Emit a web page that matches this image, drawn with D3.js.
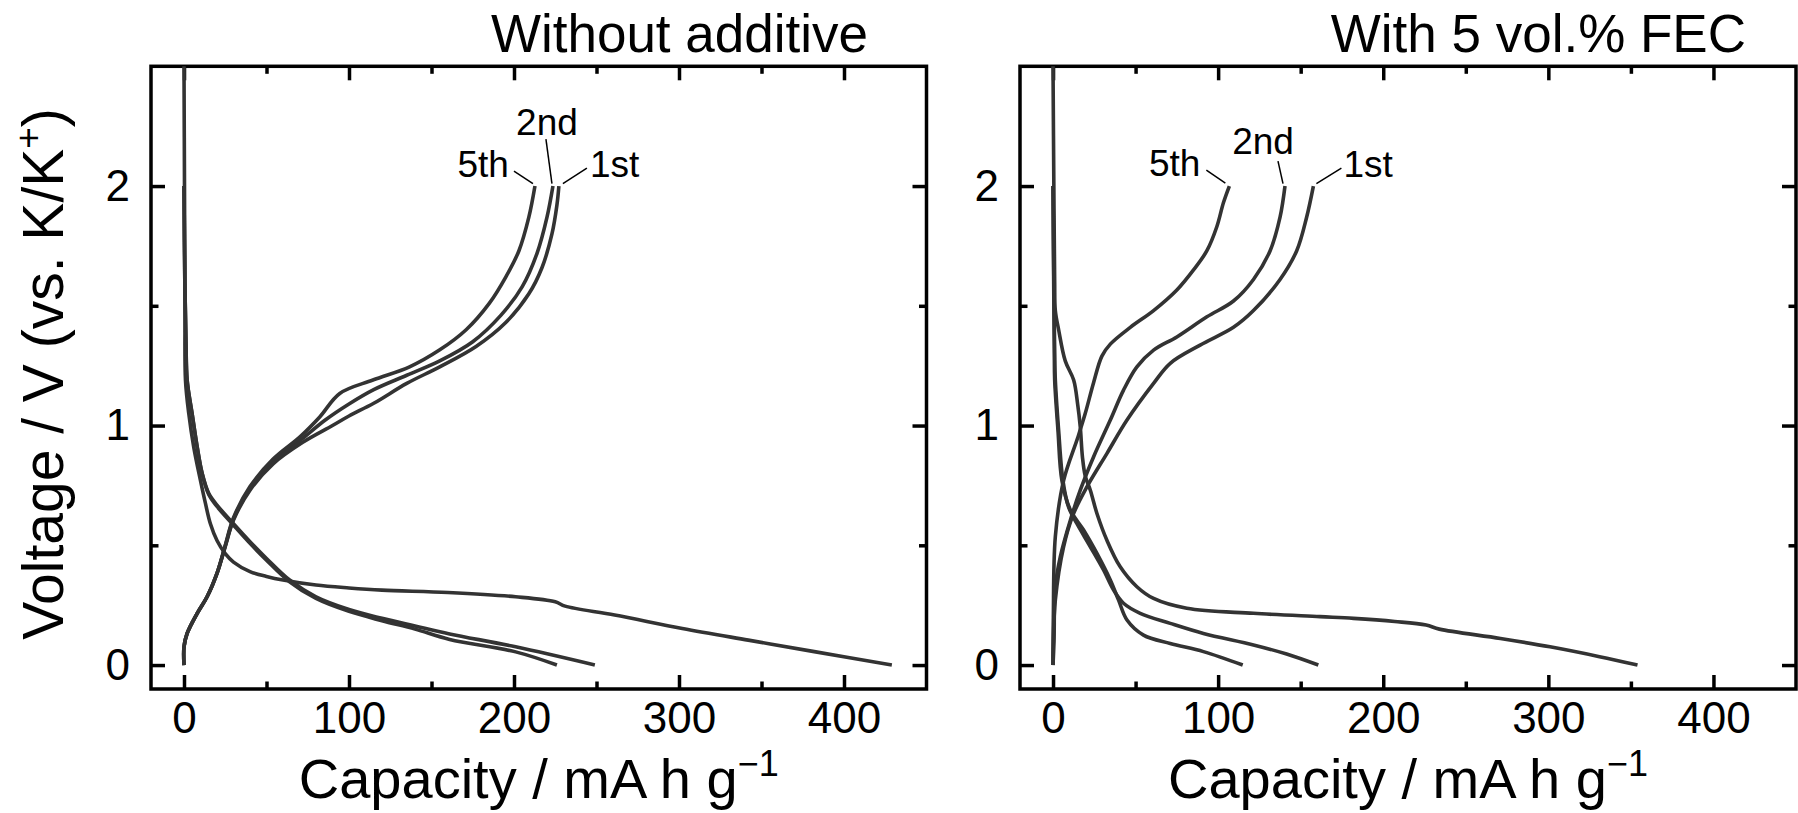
<!DOCTYPE html>
<html>
<head>
<meta charset="utf-8">
<script src="https://cdn.jsdelivr.net/npm/d3@7"></script>
<style>
  body { margin: 0; background: #fff; }
  svg { display: block; font-family: "Liberation Sans", Arial, sans-serif; }
</style>
</head>
<body>
<script>
// axis setup
const capDomain = [-20, 450];
const voltDomain = [-0.1, 2.5];
const capTicks = [0, 100, 200, 300, 400];
const capMinorTicks = [50, 150, 250, 350];
const voltTicks = [0, 1, 2];
const voltMinorTicks = [0.5, 1.5];
const panelTitles = ['Without additive', 'With 5 vol.% FEC'];
const cycleNames = ['1st', '2nd', '5th'];

// [capacity mA h g-1, voltage V]
// without additive
const plainDis1 = [[0,2.5],[0.3,2.0],[0.6,1.5],[0.9,1.19],[2.9,1.05],[5.9,0.91],[10,0.77],[13,0.675],[16,0.59],[20,0.52],[25,0.465],[30,0.43],[40,0.39],[50,0.37],[60,0.355],[80,0.334],[100,0.322],[120,0.313],[160,0.303],[201,0.285],[225,0.264],[231,0.246],[261,0.209],[302,0.153],[342,0.104],[382,0.056],[429,0]];
const plainDis2 = [[0,2.0],[0.5,1.6],[1.2,1.35],[1.9,1.19],[4.9,1.05],[8,0.91],[11,0.8],[15,0.717],[20,0.668],[30,0.59],[40,0.515],[50,0.445],[64,0.355],[80,0.285],[100,0.232],[120,0.195],[140,0.163],[161,0.13],[201,0.076],[249,0]];
const plainDis5 = [[0,2.0],[0.5,1.6],[1.2,1.35],[1.9,1.19],[4.9,1.05],[8,0.91],[11,0.8],[15,0.712],[20,0.662],[30,0.584],[40,0.508],[50,0.438],[64,0.348],[80,0.278],[100,0.224],[120,0.185],[140,0.15],[161,0.107],[201,0.055],[226,0]];
const plainCh1 = [[0,0],[0,0.076],[1.9,0.132],[8,0.216],[14,0.285],[20,0.383],[25,0.494],[30,0.605],[40,0.73],[54,0.84],[72,0.93],[90,1.0],[100,1.04],[115,1.093],[135,1.176],[155,1.245],[177,1.33],[195,1.43],[209,1.55],[217,1.66],[223,1.8],[226,1.92],[227.2,2.0]];
const plainCh2 = [[0,0],[0,0.076],[1.9,0.132],[8,0.216],[14,0.285],[20,0.383],[25,0.497],[30,0.61],[40,0.737],[54,0.85],[70,0.935],[85,1.02],[100,1.09],[115,1.15],[135,1.21],[155,1.27],[175,1.35],[192,1.46],[205,1.58],[214,1.72],[220,1.87],[223.6,2.0]];
const plainCh5 = [[0,0],[0,0.076],[1.9,0.132],[8,0.216],[14,0.285],[20,0.383],[25,0.5],[30,0.615],[40,0.745],[54,0.86],[70.3,0.953],[82.4,1.037],[94.4,1.134],[114.5,1.19],[136.7,1.245],[154.8,1.315],[171,1.4],[185,1.51],[195,1.62],[203,1.73],[209,1.87],[212.7,2.0]];

// with 5 vol.% FEC
const fecDis1 = [[0,2.5],[0.5,2.0],[1,1.6],[1.4,1.48],[3.4,1.4],[7.4,1.27],[12.5,1.19],[14.9,1.09],[16.5,0.995],[17.8,0.87],[19.5,0.79],[22.6,0.73],[26.6,0.633],[32.7,0.52],[40.7,0.41],[50.8,0.327],[60.9,0.278],[81,0.237],[121.4,0.216],[161.7,0.202],[182,0.195],[207,0.182],[226,0.167],[234,0.15],[271,0.111],[301,0.076],[331,0.035],[354,0]];
const fecDis2 = [[0,2.0],[0.5,1.6],[1,1.3],[1.4,1.19],[3.4,0.98],[6,0.77],[9.4,0.66],[14.5,0.59],[22.6,0.494],[30.6,0.397],[36.7,0.313],[42.7,0.258],[52.8,0.216],[71,0.174],[91.1,0.132],[121.4,0.084],[141.5,0.046],[160.7,0]];
const fecDis5 = [[0,2.0],[0.4,1.6],[0.8,1.3],[1,1.19],[3,0.98],[5.4,0.77],[10.5,0.647],[18.5,0.564],[26.6,0.466],[34.7,0.355],[39.7,0.271],[44.8,0.188],[54.8,0.125],[71,0.09],[91.1,0.056],[114.9,0]];
const fecCh1 = [[0,0],[0.2,0.1],[1.4,0.271],[6.4,0.494],[12.5,0.633],[20.6,0.745],[32.7,0.884],[44.8,1.023],[60.9,1.176],[71,1.26],[89.1,1.336],[109.3,1.41],[121.4,1.48],[137.5,1.61],[147.6,1.73],[153.6,1.87],[157.7,2.0]];
const fecCh2 = [[0,0],[0.6,0.1],[1.4,0.327],[4.4,0.452],[10.5,0.605],[16.5,0.73],[24.6,0.87],[34.7,1.023],[42.7,1.148],[50.8,1.245],[60.9,1.315],[75,1.37],[93.2,1.454],[109.3,1.52],[121.4,1.61],[131.5,1.73],[137.5,1.87],[140.5,2.0]];
const fecCh5 = [[0,0],[0.2,0.2],[1.4,0.536],[6.4,0.77],[15,0.95],[19.5,1.05],[24.6,1.18],[29.6,1.29],[34.7,1.34],[46.8,1.41],[60.9,1.48],[75,1.566],[85.1,1.65],[93.2,1.73],[99.2,1.83],[103.2,1.93],[106.8,2.0]];

const W = 1798, H = 813;
const plotTop = 66.3, plotBottom = 689;

class Panel {
    constructor(svg, left, right) {
        this.svg = svg;
        this.x = d3.scaleLinear().domain(capDomain).range([left, right]);
        this.y = d3.scaleLinear().domain(voltDomain).range([plotBottom, plotTop]);
        this.g = svg.append('g');
    }

    styleAxis(sel) {
        sel.select('.domain').remove();
        sel.attr('font-family', null).attr('font-size', 44);
        sel.selectAll('line').attr('stroke', '#000').attr('stroke-width', 3.5);
        sel.selectAll('text').attr('fill', '#000');
    }

    renderAxes() {
        const [x0, x1] = this.x.range();
        const major = 14, minor = 7.5;
        const axes = [
            [d3.axisBottom(this.x).tickValues(capTicks).tickPadding(13), major, `translate(0,${plotBottom})`],
            [d3.axisBottom(this.x).tickValues(capMinorTicks).tickFormat(''), minor, `translate(0,${plotBottom})`],
            [d3.axisTop(this.x).tickValues(capTicks).tickFormat(''), major, `translate(0,${plotTop})`],
            [d3.axisTop(this.x).tickValues(capMinorTicks).tickFormat(''), minor, `translate(0,${plotTop})`],
            [d3.axisLeft(this.y).tickValues(voltTicks).tickFormat(d3.format('d')).tickPadding(21), major, `translate(${x0},0)`],
            [d3.axisLeft(this.y).tickValues(voltMinorTicks).tickFormat(''), minor, `translate(${x0},0)`],
            [d3.axisRight(this.y).tickValues(voltTicks).tickFormat(''), major, `translate(${x1},0)`],
            [d3.axisRight(this.y).tickValues(voltMinorTicks).tickFormat(''), minor, `translate(${x1},0)`]
        ];
        axes.forEach(([axis, len, tr]) => {
            this.g.append('g')
                .attr('transform', tr)
                .call(axis.tickSizeInner(-len).tickSizeOuter(0))
                .call(s => this.styleAxis(s));
        });

        this.g.append('rect')
            .attr('x', x0)
            .attr('y', plotTop)
            .attr('width', x1 - x0)
            .attr('height', plotBottom - plotTop)
            .attr('fill', 'none')
            .attr('stroke', '#000')
            .attr('stroke-width', 3.5);
    }

    renderCurves(curves) {
        const line = d3.line()
            .x(d => this.x(d[0]))
            .y(d => this.y(d[1]))
            .curve(d3.curveCatmullRom.alpha(0.5));
        this.g.append('g')
            .selectAll('path')
            .data(curves)
            .join('path')
            .attr('d', line)
            .attr('fill', 'none')
            .attr('stroke', '#333')
            .attr('stroke-width', 3.6)
            .attr('stroke-linejoin', 'round');
    }

    // leader line + cycle name next to the top end of each charge curve
    renderLabels(ends, layout) {
        ends.forEach((pts, i) => {
            const end = pts[pts.length - 1];
            const px = this.x(end[0]), py = this.y(end[1]);
            const l = layout[i];
            this.g.append('line')
                .attr('x1', px + l.from[0]).attr('y1', py + l.from[1])
                .attr('x2', px + l.to[0]).attr('y2', py + l.to[1])
                .attr('stroke', '#000')
                .attr('stroke-width', 1.5);
            this.g.append('text')
                .attr('x', px + l.text[0])
                .attr('y', py + l.text[1])
                .attr('text-anchor', l.anchor)
                .attr('font-size', 37)
                .text(cycleNames[i]);
        });
    }

    renderTitles(title, titleRight) {
        const [x0, x1] = this.x.range();
        this.g.append('text')
            .attr('x', titleRight)
            .attr('y', 52)
            .attr('text-anchor', 'end')
            .attr('font-size', 53)
            .text(title);

        const xt = this.g.append('text')
            .attr('x', (x0 + x1) / 2)
            .attr('y', 798)
            .attr('text-anchor', 'middle')
            .attr('font-size', 56);
        xt.append('tspan').text('Capacity / mA h g');
        xt.append('tspan').attr('font-size', 36).attr('dy', -22).text('\u22121');
    }
}

const svg = d3.select('body').append('svg')
    .attr('width', W)
    .attr('height', H);

const leftLabels = [
    {from: [4, -2.5], to: [28, -18], text: [31, -9], anchor: 'start'},
    {from: [-1, -2.5], to: [-7, -47], text: [-6, -51], anchor: 'middle'},
    {from: [-2, -2.5], to: [-21, -15], text: [-26, -9], anchor: 'end'}
];
const rightLabels = [
    {from: [3, -2.5], to: [28, -18], text: [30, -9], anchor: 'start'},
    {from: [-2, -2.5], to: [-7, -25], text: [-22, -32], anchor: 'middle'},
    {from: [-4, -3], to: [-23, -16], text: [-29, -10], anchor: 'end'}
];

const left = new Panel(svg, 151, 926.5);
left.renderAxes();
left.renderCurves([plainDis1, plainDis2, plainDis5, plainCh1, plainCh2, plainCh5]);
left.renderLabels([plainCh1, plainCh2, plainCh5], leftLabels);
left.renderTitles(panelTitles[0], 868);

const right = new Panel(svg, 1020, 1796);
right.renderAxes();
right.renderCurves([fecDis1, fecDis2, fecDis5, fecCh1, fecCh2, fecCh5]);
right.renderLabels([fecCh1, fecCh2, fecCh5], rightLabels);
right.renderTitles(panelTitles[1], 1746);

// y axis title, left panel only
const yt = svg.append('text')
    .attr('transform', 'translate(63,374) rotate(-90)')
    .attr('text-anchor', 'middle')
    .attr('font-size', 57);
yt.append('tspan').text('Voltage / V (vs. K/K');
yt.append('tspan').attr('font-size', 37).attr('dy', -22).text('+');
yt.append('tspan').attr('dy', 22).text(')');
</script>
</body>
</html>
